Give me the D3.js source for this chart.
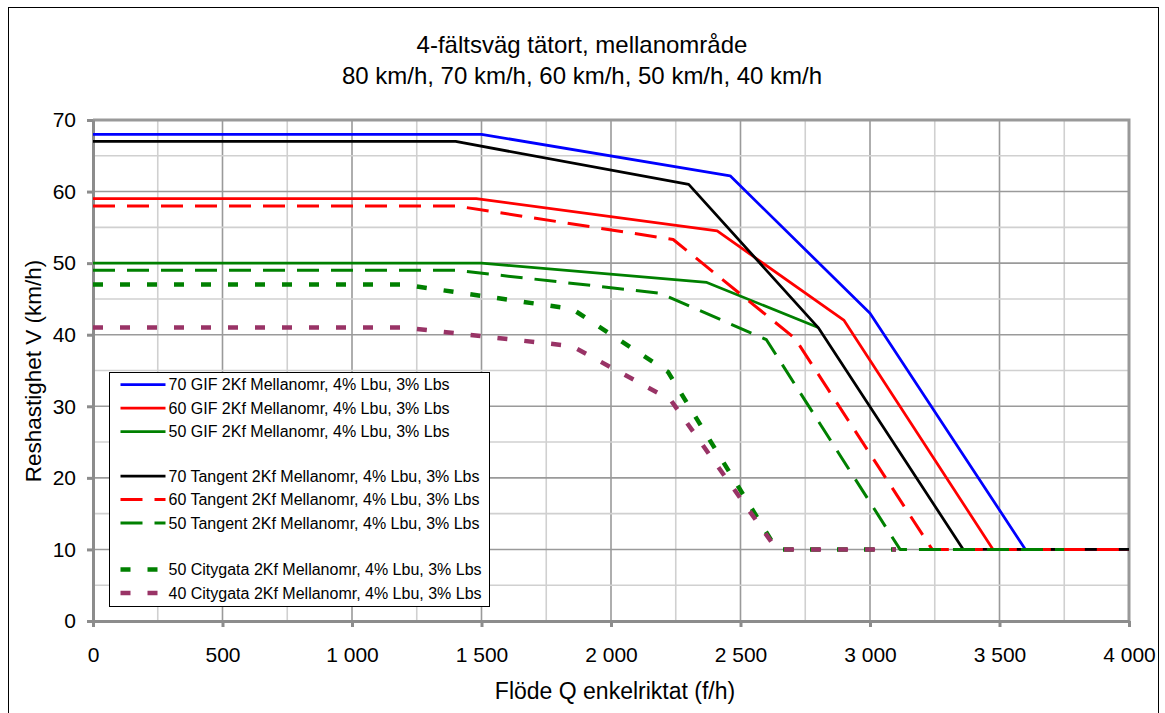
<!DOCTYPE html>
<html>
<head>
<meta charset="utf-8">
<script src="https://cdn.jsdelivr.net/npm/d3@7"></script>
<style>
  body { margin: 0; background: #fff; }
  text { font-family: "Liberation Sans", Arial, sans-serif; }
</style>
</head>
<body>
<div id="viz"></div>
<script>
// Data: flow Q (f/h) and travel speed V (km/h)
var xTicks = [0, 500, 1000, 1500, 2000, 2500, 3000, 3500, 4000];
var yTicks = [0, 10, 20, 30, 40, 50, 60, 70];

var gif70      = [[0, 68], [1500, 68], [2460, 62.2], [3000, 43], [3600, 10], [4000, 10]];
var gif60      = [[0, 59], [1480, 59], [2410, 54.5], [2900, 42], [3475, 10], [4000, 10]];
var gif50      = [[0, 50], [1500, 50], [2370, 47.3], [2800, 41]];
var tangent70  = [[0, 67], [1400, 67], [2300, 61], [2800, 41], [3360, 10], [4000, 10]];
var tangent60  = [[0, 58], [1400, 58], [2240, 53.3], [2710, 39.5], [3240, 10], [4000, 10]];
var tangent50  = [[0, 49], [1400, 49], [2190, 45.8], [2600, 39.3], [3116, 10], [3750, 10]];
var citygata50 = [[0, 47], [1200, 47], [1850, 43.6], [2220, 34.8], [2640, 10], [3100, 10]];
var citygata40 = [[0, 41], [1200, 41], [1850, 38.4], [2230, 30.9], [2640, 10], [3100, 10]];

var seriesNames = [
  "70 GIF 2Kf Mellanomr, 4% Lbu, 3% Lbs",
  "60 GIF 2Kf Mellanomr, 4% Lbu, 3% Lbs",
  "50 GIF 2Kf Mellanomr, 4% Lbu, 3% Lbs",
  "70 Tangent 2Kf Mellanomr, 4% Lbu, 3% Lbs",
  "60 Tangent 2Kf Mellanomr, 4% Lbu, 3% Lbs",
  "50 Tangent 2Kf Mellanomr, 4% Lbu, 3% Lbs",
  "50 Citygata 2Kf Mellanomr, 4% Lbu, 3% Lbs",
  "40 Citygata 2Kf Mellanomr, 4% Lbu, 3% Lbs"
];
var seriesData = [gif70, gif60, gif50, tangent70, tangent60, tangent50, citygata50, citygata40];

// styling per series (colour, dash, width)
var colors = ["#0000ff", "#ff0000", "#008000", "#000000", "#ff0000", "#008000", "#008000", "#993366"];
var dashes = [null, null, null, null, "22,12", "22,12", "10,17", "10,17"];
var widths = [2.75, 2.75, 2.75, 2.75, 3, 3, 4.5, 4.5];
var legendGap = [0, 0, 0, 21, 0, 0, 23, 0]; // extra space before a group

var w = 1165, h = 713;
var margin = {top: 120, right: 36, bottom: 92, left: 93};

var svg = d3.select("#viz")
            .append("svg")
            .attr("width", w)
            .attr("height", h);

// outer frame
svg.append("rect")
   .attr("x", 8.5).attr("y", 7.5)
   .attr("width", 1150).attr("height", 720)
   .attr("fill", "none")
   .attr("stroke", "#000")
   .attr("stroke-width", 1);

var x = d3.scaleLinear().domain([0, 4000]).range([margin.left, w - margin.right]);
var y = d3.scaleLinear().domain([0, 70]).range([h - margin.bottom, margin.top]);

// grid, lighter every half step
var vGrid = d3.range(250, 4000, 250);
var hGrid = d3.range(5, 70, 5);

svg.selectAll("line.vgrid")
   .data(vGrid)
   .enter()
   .append("line")
   .attr("class", "vgrid")
   .attr("x1", function(d){ return x(d); })
   .attr("x2", function(d){ return x(d); })
   .attr("y1", y(0))
   .attr("y2", y(70))
   .attr("stroke", function(d){ return d % 500 == 0 ? "#9a9a9a" : "#d0d0d0"; })
   .attr("stroke-width", 1.6);

svg.selectAll("line.hgrid")
   .data(hGrid)
   .enter()
   .append("line")
   .attr("class", "hgrid")
   .attr("x1", x(0))
   .attr("x2", x(4000))
   .attr("y1", function(d){ return y(d); })
   .attr("y2", function(d){ return y(d); })
   .attr("stroke", function(d){ return d % 10 == 0 ? "#9a9a9a" : "#d0d0d0"; })
   .attr("stroke-width", 1.6);

// top and right border of the plot area
svg.append("path")
   .attr("d", "M" + x(0) + "," + y(70) + "H" + x(4000) + "V" + y(0))
   .attr("fill", "none")
   .attr("stroke", "#999")
   .attr("stroke-width", 3);

// axes, thousands separated by a space
var fmt = d3.formatLocale({decimal: ",", thousands: " ", grouping: [3], currency: ["", ""]}).format(",d");

var xAxis = svg.append("g")
   .attr("transform", "translate(0," + y(0) + ")")
   .call(d3.axisBottom(x).tickValues(xTicks).tickFormat(fmt).tickSize(6).tickSizeOuter(0).tickPadding(20));

var yAxis = svg.append("g")
   .attr("transform", "translate(" + x(0) + ",0)")
   .call(d3.axisLeft(y).tickValues(yTicks).tickSize(6).tickSizeOuter(0).tickPadding(11));

[xAxis, yAxis].forEach(function(a){
  a.select(".domain").attr("stroke", "#8c8c8c").attr("stroke-width", 3);
  a.selectAll(".tick line").attr("stroke", "#8c8c8c").attr("stroke-width", 3);
  a.selectAll(".tick text")
   .attr("fill", "#000")
   .style("font-size", "21px")
   .style("font-family", "'Liberation Sans', Arial, sans-serif");
});

// series lines
var line = d3.line()
             .x(function(d){ return x(d[0]); })
             .y(function(d){ return y(d[1]); });

svg.selectAll("path.series")
   .data(seriesData)
   .enter()
   .append("path")
   .attr("class", "series")
   .attr("d", line)
   .attr("fill", "none")
   .attr("stroke", function(d, i){ return colors[i]; })
   .attr("stroke-width", function(d, i){ return widths[i]; })
   .attr("stroke-dasharray", function(d, i){ return dashes[i]; })
   .attr("stroke-linejoin", "round");

// titles
svg.append("text")
   .attr("x", 582).attr("y", 53)
   .attr("text-anchor", "middle")
   .style("font-size", "24px")
   .text("4-fältsväg tätort, mellanområde");

svg.append("text")
   .attr("x", 582).attr("y", 84)
   .attr("text-anchor", "middle")
   .style("font-size", "24px")
   .text("80 km/h, 70 km/h, 60 km/h, 50 km/h, 40 km/h");

svg.append("text")
   .attr("x", 615).attr("y", 699)
   .attr("text-anchor", "middle")
   .style("font-size", "23px")
   .text("Flöde Q enkelriktat (f/h)");

svg.append("text")
   .attr("transform", "translate(41,371) rotate(-90)")
   .attr("text-anchor", "middle")
   .style("font-size", "22.5px")
   .text("Reshastighet V (km/h)");

// legend
var legend = svg.append("g").attr("transform", "translate(109.5,372.5)");

legend.append("rect")
      .attr("width", 380)
      .attr("height", 234)
      .attr("fill", "#fff")
      .attr("stroke", "#000")
      .attr("stroke-width", 1);

var rowY = [];
var cy = 12;
seriesNames.forEach(function(n, i){
  cy += legendGap[i];
  rowY.push(cy);
  cy += 23.5;
});

var items = legend.selectAll("g.item")
                  .data(seriesNames)
                  .enter()
                  .append("g")
                  .attr("class", "item")
                  .attr("transform", function(d, i){ return "translate(0," + rowY[i] + ")"; });

items.append("line")
     .attr("x1", 11).attr("x2", 56)
     .attr("stroke", function(d, i){ return colors[i]; })
     .attr("stroke-width", function(d, i){ return widths[i]; })
     .attr("stroke-dasharray", function(d, i){ return dashes[i]; });

items.append("text")
     .attr("x", 59)
     .attr("y", 5.5)
     .style("font-size", "16px")
     .text(function(d){ return d; });
</script>
</body>
</html>
